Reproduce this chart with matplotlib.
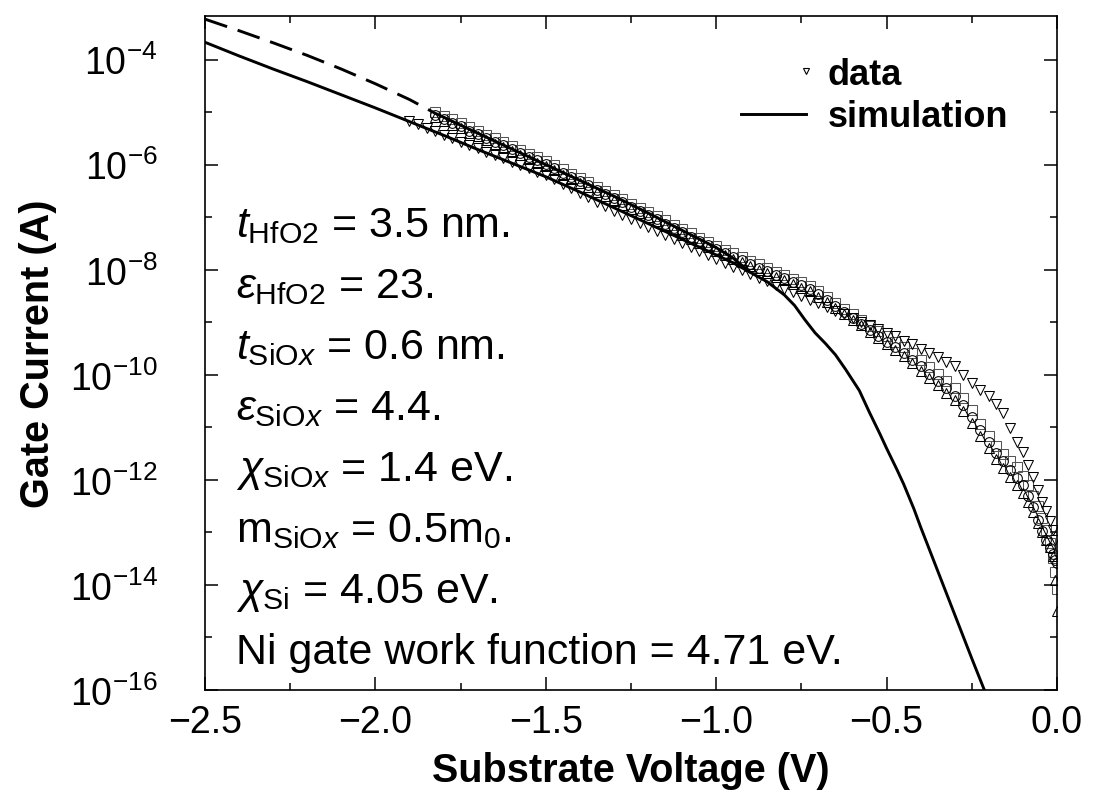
import numpy as np
import matplotlib
matplotlib.use("Agg")
import matplotlib.pyplot as plt
from matplotlib.ticker import FixedLocator, LogFormatterSciNotation, MultipleLocator, NullFormatter
from matplotlib.legend_handler import HandlerLine2D
from matplotlib.lines import Line2D

plt.rcParams['font.family'] = ['Liberation Sans', 'DejaVu Sans']
plt.rcParams['mathtext.fontset'] = 'custom'
plt.rcParams['mathtext.rm'] = 'Liberation Sans'
plt.rcParams['mathtext.it'] = 'Liberation Sans:italic'
plt.rcParams['mathtext.bf'] = 'Liberation Sans:bold'

nan = float('nan')

# ---------------- data (log10 of gate current) ----------------
x_data = [-1.900, -1.875, -1.850, -1.825, -1.800, -1.775, -1.750, -1.725, -1.700, -1.675,
          -1.650, -1.625, -1.600, -1.575, -1.550, -1.525, -1.500, -1.475, -1.450, -1.425,
          -1.400, -1.375, -1.350, -1.325, -1.300, -1.275, -1.250, -1.225, -1.200, -1.175,
          -1.150, -1.125, -1.100, -1.075, -1.050, -1.025, -1.000, -0.975, -0.950, -0.925,
          -0.900, -0.875, -0.850, -0.825, -0.800, -0.775, -0.750, -0.725, -0.700, -0.675,
          -0.650, -0.625, -0.600, -0.575, -0.550, -0.525, -0.500, -0.475, -0.450, -0.425,
          -0.400, -0.375, -0.350, -0.325, -0.300, -0.275, -0.250, -0.225, -0.200, -0.178,
          -0.157, -0.137, -0.118, -0.100, -0.084, -0.069, -0.055, -0.043, -0.032, -0.022,
          -0.013, -0.006, 0.000]

log_tri_down = [-5.17, -5.23, -5.30, -5.36, -5.43, -5.49, -5.56, -5.62, -5.69, -5.75,
                -5.81, -5.88, -5.94, -6.01, -6.07, -6.14, -6.20, -6.28, -6.37, -6.45,
                -6.54, -6.62, -6.71, -6.79, -6.88, -6.96, -7.03, -7.11, -7.19, -7.26,
                -7.34, -7.42, -7.49, -7.57, -7.65, -7.72, -7.80, -7.87, -7.94, -8.01,
                -8.08, -8.15, -8.22, -8.29, -8.36, -8.43, -8.50, -8.57, -8.64, -8.71,
                -8.78, -8.85, -8.92, -8.99, -9.06, -9.13, -9.20, -9.27, -9.35, -9.42,
                -9.50, -9.58, -9.66, -9.75, -9.84, -10.00, -10.16, -10.28, -10.40, -10.55,
                -10.72, -11.02, -11.27, -11.47, -11.72, -11.95, -12.20, -12.43, -12.60, -12.78,
                -12.95, -13.15, nan]

log_square = [nan, nan, nan, -5.00, -5.07, -5.14, -5.21, -5.29, -5.36, -5.43,
              -5.50, -5.57, -5.64, -5.72, -5.79, -5.86, -5.93, -6.01, -6.09, -6.17,
              -6.25, -6.33, -6.42, -6.50, -6.58, -6.66, -6.74, -6.82, -6.90, -6.98,
              -7.06, -7.14, -7.23, -7.31, -7.39, -7.47, -7.55, -7.62, -7.69, -7.76,
              -7.83, -7.90, -7.97, -8.04, -8.10, -8.17, -8.24, -8.31, -8.41, -8.52,
              -8.63, -8.74, -8.85, -8.96, -9.07, -9.17, -9.27, -9.37, -9.48, -9.59,
              -9.72, -9.86, -9.99, -10.12, -10.26, -10.45, -10.67, -10.93, -11.17, -11.36,
              -11.51, -11.64, -11.76, -11.92, -12.10, -12.30, -12.50, -12.72, -12.95, -13.20,
              -13.48, -13.75, -14.08]

log_circle = [nan, nan, nan, -5.06, -5.13, -5.20, -5.27, -5.35, -5.42, -5.49,
              -5.56, -5.63, -5.70, -5.78, -5.85, -5.92, -5.99, -6.07, -6.15, -6.23,
              -6.31, -6.39, -6.48, -6.56, -6.64, -6.72, -6.80, -6.88, -6.96, -7.04,
              -7.12, -7.20, -7.29, -7.37, -7.45, -7.53, -7.61, -7.68, -7.75, -7.82,
              -7.89, -7.96, -8.03, -8.10, -8.16, -8.23, -8.30, -8.37, -8.47, -8.58,
              -8.69, -8.80, -8.91, -9.04, -9.15, -9.26, -9.37, -9.48, -9.59, -9.71,
              -9.84, -9.98, -10.12, -10.26, -10.41, -10.58, -10.80, -11.05, -11.28, -11.48,
              -11.65, -11.82, -11.97, -12.10, -12.30, -12.52, -12.77, -12.98, -13.15, -13.30,
              -13.42, -13.52, -13.58]

log_tri_up = [nan, nan, nan, -5.10, -5.17, -5.24, -5.31, -5.39, -5.46, -5.53,
              -5.60, -5.67, -5.74, -5.82, -5.89, -5.96, -6.03, -6.11, -6.19, -6.27,
              -6.35, -6.43, -6.52, -6.60, -6.68, -6.76, -6.84, -6.92, -7.00, -7.08,
              -7.16, -7.24, -7.33, -7.41, -7.49, -7.57, -7.65, -7.72, -7.79, -7.86,
              -7.93, -8.00, -8.07, -8.14, -8.20, -8.27, -8.34, -8.41, -8.51, -8.62,
              -8.73, -8.84, -8.95, -9.06, -9.18, -9.30, -9.41, -9.53, -9.65, -9.78,
              -9.92, -10.06, -10.20, -10.34, -10.48, -10.68, -10.92, -11.16, -11.40, -11.60,
              -11.78, -11.95, -12.10, -12.25, -12.42, -12.62, -12.82, -13.00, -13.15, -13.28,
              -13.45, -13.90, -14.50]

# simulation curves
sim_dash_x = [-2.5, -2.4, -2.3, -2.2, -2.1, -2.0, -1.9, -1.825]
sim_dash_log = [-3.23, -3.45, -3.68, -3.92, -4.18, -4.46, -4.76, -5.02]

sim_upper_x = [-1.825, -1.7, -1.6, -1.5, -1.4, -1.3, -1.2, -1.1, -1.0, -0.95, -0.9]
sim_upper_log = [-5.02, -5.40, -5.70, -6.00, -6.30, -6.60, -6.92, -7.25, -7.58, -7.78, -8.05]

sim_lower_x = [-2.5, -2.4, -2.3, -2.2, -2.1, -2.0, -1.9, -1.8, -1.7, -1.6, -1.5, -1.4,
               -1.3, -1.2, -1.1, -1.0, -0.95, -0.9, -0.85, -0.8, -0.77, -0.74, -0.71,
               -0.68, -0.65, -0.62, -0.60, -0.58, -0.55, -0.52, -0.50, -0.47, -0.45,
               -0.42, -0.40, -0.37, -0.34, -0.31, -0.28, -0.25, -0.212, -0.19]
sim_lower_log = [-3.67, -3.93, -4.18, -4.42, -4.67, -4.92, -5.18, -5.44, -5.71, -5.97,
                 -6.23, -6.52, -6.82, -7.12, -7.42, -7.72, -7.87, -8.05, -8.23, -8.48,
                 -8.68, -8.95, -9.20, -9.40, -9.62, -9.90, -10.10, -10.30, -10.72, -11.12,
                 -11.40, -11.80, -12.08, -12.55, -12.90, -13.40, -13.90, -14.40, -14.90,
                 -15.40, -16.02, -16.40]

x_ticks = [-2.5, -2.0, -1.5, -1.0, -0.5, 0.0]
y_major_ticks = [1e-16, 1e-14, 1e-12, 1e-10, 1e-8, 1e-6, 1e-4]
y_minor_ticks = [1e-15, 1e-13, 1e-11, 1e-9, 1e-7, 1e-5, 1e-3]

param_lines = [r'$t_{\mathrm{HfO2}}$ = 3.5 nm.',
               r'$\varepsilon_{\mathrm{HfO2}}$ = 23.',
               r'$t_{\mathrm{SiO}x}$ = 0.6 nm.',
               r'$\varepsilon_{\mathrm{SiO}x}$ = 4.4.',
               r'$\chi_{\mathrm{SiO}x}$ = 1.4 eV.',
               r'm$_{\mathrm{SiO}x}$ = 0.5m$_{0}$.',
               r'$\chi_{\mathrm{Si}}$ = 4.05 eV.',
               'Ni gate work function = 4.71 eV.']

# ---------------- figure ----------------
W, H = 1100, 803
L_, R_, T_, B_ = 205, 1057, 17, 691
fig = plt.figure(figsize=(W/100, H/100), dpi=100)
ax = fig.add_axes([L_/W, (H-B_)/H, (R_-L_)/W, (B_-T_)/H])

def tenpow(v):
    return [10.0**a for a in v]

ms = 7.0
mew = 0.75
ax.plot(x_data, tenpow(log_square), ls='none', marker='s', ms=6.6, mfc='none', mec='#555555', mew=mew)
ax.plot(x_data, tenpow(log_circle), ls='none', marker='o', ms=ms, mfc='none', mec='black', mew=mew)
ax.plot(x_data, tenpow(log_tri_up), ls='none', marker='^', ms=ms, mfc='none', mec='black', mew=mew)
ax.plot(x_data, tenpow(log_tri_down), ls='none', marker='v', ms=ms, mfc='none', mec='black', mew=mew)

lw = 2.1
ax.plot(sim_dash_x, tenpow(sim_dash_log), color='black', lw=lw, ls=(0, (8.0, 3.8)))
ax.plot(sim_upper_x, tenpow(sim_upper_log), color='black', lw=lw, solid_capstyle='butt')
ax.plot(sim_lower_x, tenpow(sim_lower_log), color='black', lw=lw)

ax.set_yscale('log')
ax.set_xlim(-2.5, 0.0)
ax.set_ylim(1e-16, 10**-3.17)

ax.xaxis.set_major_locator(FixedLocator(x_ticks))
ax.xaxis.set_minor_locator(MultipleLocator(0.25))
ax.yaxis.set_major_locator(FixedLocator(y_major_ticks))
ax.yaxis.set_major_formatter(LogFormatterSciNotation())
ax.yaxis.set_minor_locator(FixedLocator(y_minor_ticks))
ax.yaxis.set_minor_formatter(NullFormatter())

ax.tick_params(which='both', direction='in', top=True, right=True, width=1.1, labelsize=27)
ax.tick_params(which='major', length=9.5)
ax.tick_params(which='minor', length=5)
ax.tick_params(axis='x', which='major', pad=10)
ax.tick_params(axis='y', which='major', pad=34)
for s in ax.spines.values():
    s.set_linewidth(1.2)

ax.set_xlabel('Substrate Voltage (V)', fontsize=28.5, fontweight='bold', labelpad=8)
ax.set_ylabel('Gate Current (A)', fontsize=28.5, fontweight='bold', labelpad=9)

# parameter annotations
for i, s in enumerate(param_lines):
    ybase = 237 + 61.0 * i
    ax.text((236-L_)/(R_-L_), (B_ - ybase)/(B_-T_), s, transform=ax.transAxes,
            fontsize=31, va='baseline', ha='left')

# legend with the marker drawn at the right end of the handle
class RightMarkerHandler(HandlerLine2D):
    def get_xdata(self, legend, xdescent, ydescent, width, height, fontsize):
        right = -xdescent + width
        return np.array([right, right]), np.array([right])

h_data = Line2D([], [], ls='none', marker='v', ms=5, mfc='none', mec='black', mew=0.8)
h_sim = Line2D([], [], color='black', lw=lw)
leg = ax.legend([h_data, h_sim], ['data', 'simulation'], loc='upper right',
                bbox_to_anchor=((1008-L_)/(R_-L_), (B_-58)/(B_-T_)), frameon=False,
                borderaxespad=0, borderpad=0,
                prop={'size': 26, 'weight': 'bold'}, handlelength=1.8,
                handletextpad=0.6, labelspacing=0.2, numpoints=1,
                handler_map={h_data: RightMarkerHandler()})

fig.savefig('out.png', dpi=100)
